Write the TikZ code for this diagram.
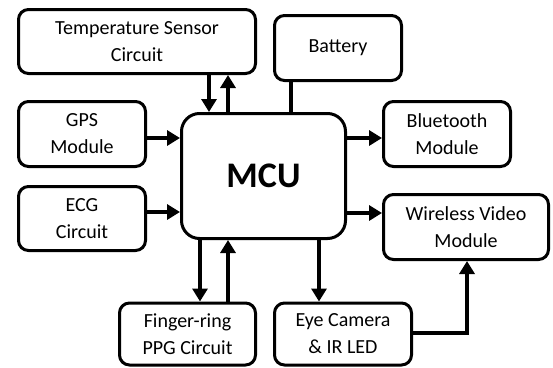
\documentclass[tikz,border=0pt]{standalone}
\usepackage{fontspec}
\setmainfont{Carlito}
\usetikzlibrary{arrows.meta}
\tikzset{
  blk/.style={draw=black, line width=3pt, rounded corners=10pt, fill=white, align=center, inner sep=0pt,
    font=\fontsize{20}{27}\selectfont},
  mcubox/.style={draw=black, line width=3pt, rounded corners=18pt, fill=white, inner sep=0pt,
    font=\fontsize{36}{40}\selectfont\bfseries},
  arr/.style={line width=4.5pt, -{Triangle[length=13pt,width=15pt]}},
  lnk/.style={line width=4.5pt}
}
\begin{document}
\begin{tikzpicture}[x=1pt,y=-1pt]
\useasboundingbox (0,0) rectangle (553,367);
\node[blk, minimum width=237pt, minimum height=64pt] (temp) at (137,41.5) {Temperature Sensor\\Circuit};
\node[blk, minimum width=127pt, minimum height=65pt] (bat) at (338,48) {Battery};
\node[blk, minimum width=127pt, minimum height=65pt] (gps) at (82,134) {GPS\\Module};
\node[blk, minimum width=127pt, minimum height=65pt] (bt) at (447,134) {Bluetooth\\Module};
\node[blk, minimum width=127pt, minimum height=64pt] (ecg) at (82,218.5) {ECG\\Circuit};
\node[blk, minimum width=165pt, minimum height=65pt] (wv) at (466,227) {Wireless Video\\Module};
\node[blk, minimum width=136pt, minimum height=62pt] (ppg) at (187.5,334) {Finger-ring\\PPG Circuit};
\node[blk, minimum width=137pt, minimum height=62pt] (eye) at (343,334) {Eye Camera\\\& IR LED};
\node[mcubox, minimum width=164pt, minimum height=125pt] (mcu) at (263.5,176) {MCU};

\coordinate (tA) at (209,0);
\coordinate (tB) at (228,0);
\coordinate (bA) at (291,0);
\coordinate (pA) at (200,0);
\coordinate (pB) at (228,0);
\coordinate (eA) at (319,0);
\coordinate (gY) at (0,138);
\coordinate (cY) at (0,212);
\coordinate (wY) at (0,213);
\coordinate (eY) at (0,333);
\coordinate (wX) at (467,0);

\draw[arr] (temp.south -| tA) -- (mcu.north -| tA);
\draw[arr] (mcu.north -| tB) -- (temp.south -| tB);
\draw[lnk] (bat.south -| bA) -- (mcu.north -| bA);
\draw[arr] (gps.east |- gY) -- (mcu.west |- gY);
\draw[arr] (ecg.east |- cY) -- (mcu.west |- cY);
\draw[arr] (mcu.east |- gY) -- (bt.west |- gY);
\draw[arr] (mcu.east |- wY) -- (wv.west |- wY);
\draw[arr] (mcu.south -| pA) -- (ppg.north -| pA);
\draw[arr] (ppg.north -| pB) -- (mcu.south -| pB);
\draw[arr] (mcu.south -| eA) -- (eye.north -| eA);
\draw[arr] (eye.east |- eY) -| (wv.south -| wX);
\end{tikzpicture}
\end{document}
